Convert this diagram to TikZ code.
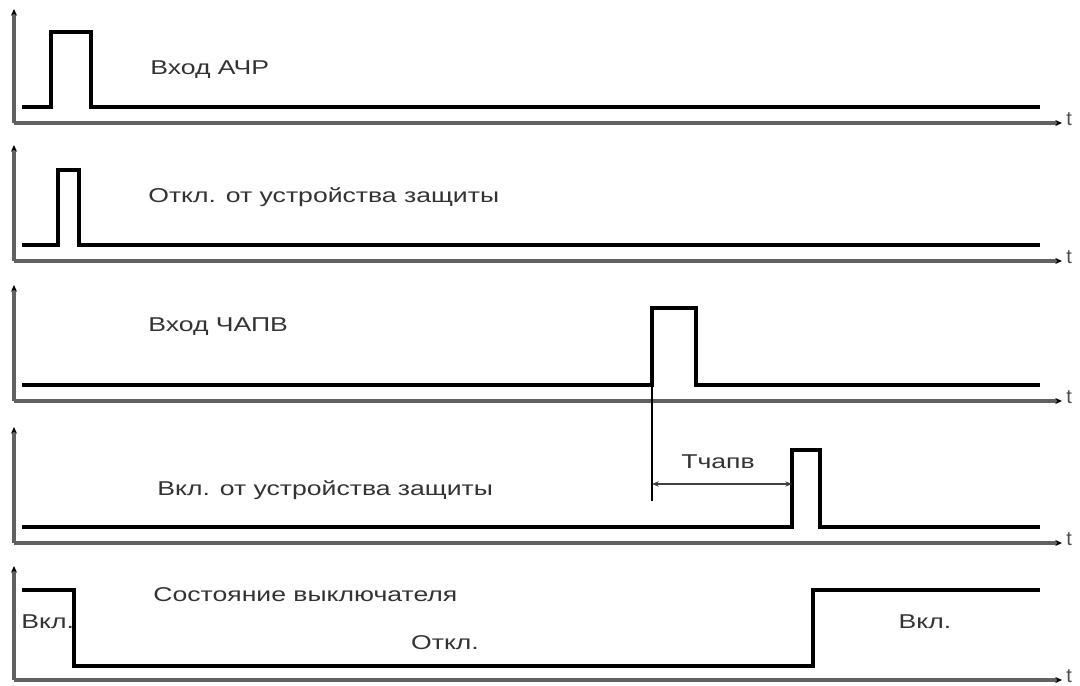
\documentclass[tikz,border=0pt]{standalone}
\usepackage{fontspec}
\setmainfont{Liberation Sans}
\usetikzlibrary{arrows.meta}
\begin{document}
\begin{tikzpicture}[x=0.75pt,y=-0.75pt,
  axisline/.style={draw=black!62,line width=2.4pt,-{Stealth[length=5pt,width=4.5pt,black]}},
  sig/.style={draw=black,line width=2.5pt,line join=miter},
  lbl/.style={font=\fontsize{15}{17}\selectfont,text=black!80,inner sep=0pt,xscale=1.33},
  tlbl/.style={font=\fontsize{15}{17}\selectfont,text=black!70,inner sep=0pt},
  dimline/.style={draw=black!75,line width=1.3pt,{Stealth[length=5pt,width=4pt]}-{Stealth[length=5pt,width=4pt]}}]
\useasboundingbox (0,0) rectangle (1080,685);
% axes
\foreach \n/\ay/\top in {1/123/9,2/261/145,3/401/285,4/543/427,5/680/566}{
  \coordinate (o\n) at (14,\ay);
  \coordinate (ytop\n) at (14,\top);
  \coordinate (xend\n) at (1062,\ay);
  \draw[axisline] (o\n) -- (ytop\n);
  \draw[axisline] (o\n) -- (xend\n);
  \node[tlbl,anchor=west] (t\n) at (1066,\ay-4) {t};
}
% signal 1
\draw[sig] (22,107) -- (51,107) -- (51,32) -- (91,32) -- (91,107) -- (1040,107);
\node[lbl,anchor=west] (l1) at (150,70) {Вход АЧР};
% signal 2
\draw[sig] (22,245) -- (58,245) -- (58,170) -- (79,170) -- (79,245) -- (1040,245);
\node[lbl,anchor=west] (l2) at (148,197) {Откл. от устройства защиты};
% signal 3
\draw[sig] (22,385) -- (652,385) -- (652,308) -- (696,308) -- (696,385) -- (1040,385);
\node[lbl,anchor=west] (l3) at (148,327) {Вход ЧАПВ};
% signal 4
\draw[sig] (22,527) -- (792,527) -- (792,450) -- (820,450) -- (820,527) -- (1040,527);
\node[lbl,anchor=west] (l4) at (157,490) {Вкл. от устройства защиты};
% signal 5
\draw[sig] (22,590) -- (74,590) -- (74,666) -- (813,666) -- (813,590) -- (1040,590);
\node[lbl,anchor=west] (l5) at (153,595) {Состояние выключателя};
\node[lbl,anchor=west] (on1) at (21,622) {Вкл.};
\node[lbl] (off) at (445,643) {Откл.};
\node[lbl] (on2) at (925,622) {Вкл.};
% dimension
\coordinate (d0) at (652,385);
\coordinate (d1) at (652,501);
\coordinate (da) at (652,484);
\coordinate (db) at (792,484);
\draw[black,line width=2pt] (d0) -- (d1);
\draw[dimline] (da) -- (db);
\node[lbl] (tch) at (718,462) {Тчапв};
\end{tikzpicture}
\end{document}
